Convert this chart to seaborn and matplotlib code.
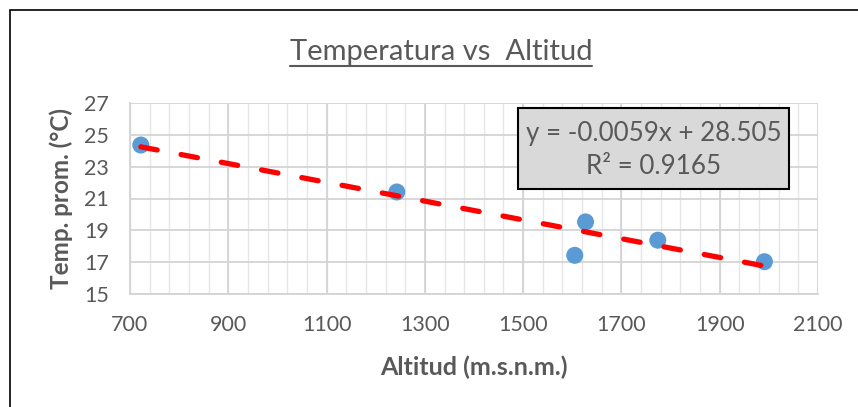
import matplotlib
matplotlib.use("Agg")
import matplotlib.pyplot as plt
import seaborn as sns
import numpy as np
import pandas as pd
from matplotlib.patches import Rectangle
from matplotlib.lines import Line2D

# Station data
altitud = [722, 1243, 1605, 1627, 1774, 1991]
temperatura = [24.36, 21.41, 17.43, 19.53, 18.38, 17.03]

# Linear trendline coefficients
pendiente = -0.0059
intercepto = 28.505
r2 = 0.9165

x_ticks = [700, 900, 1100, 1300, 1500, 1700, 1900, 2100]
y_ticks = [15, 17, 19, 21, 23, 25, 27]

titulo = "Temperatura vs  Altitud"
x_label = "Altitud (m.s.n.m.)"
y_label = "Temp. prom. (°C)"

sns.set_theme(style="white")
plt.rcParams["font.family"] = ["Lato", "DejaVu Sans"]
plt.rcParams["lines.scale_dashes"] = False

gray_text = "#595959"
W, H = 858, 407
fig = plt.figure(figsize=(W / 100, H / 100), dpi=100)
ax = fig.add_axes([130 / W, 1 - 294 / H, (818 - 130) / W, (294 - 103) / H])

df = pd.DataFrame({"altitud": altitud, "temperatura": temperatura})

# Grid: minor vertical lines every 40 m, major every 200 m, horizontal every 2 °C
for xv in np.arange(700, 2100 + 1, 40):
    ax.axvline(xv, color="#e6e6e6", lw=1.0, zorder=0)
for xv in x_ticks:
    ax.axvline(xv, color="#d4d4d4", lw=1.3, zorder=0)
for yv in y_ticks:
    ax.axhline(yv, color="#d4d4d4", lw=1.3, zorder=0)

# Trendline from the fitted equation
x_fit = np.array([min(altitud), max(altitud)])
trend = pd.DataFrame({"x": x_fit, "y": pendiente * x_fit + intercepto})
sns.lineplot(data=trend, x="x", y="y", ax=ax, color="#ff0000", lw=3.8,
             linestyle=(0, (12.0, 17.5)), solid_capstyle="round",
             dash_capstyle="round", zorder=3)

sns.scatterplot(data=df, x="altitud", y="temperatura", ax=ax, s=150,
                color="#5b9bd5", edgecolor="none", zorder=2)

ax.set_xlim(700, 2100)
ax.set_ylim(15, 27)
ax.set_xticks(x_ticks)
ax.set_yticks(y_ticks)
ax.tick_params(axis="both", length=0, labelsize=15.5, labelcolor=gray_text)
ax.tick_params(axis="x", pad=15)
ax.tick_params(axis="y", pad=15)
for s in ["top", "right"]:
    ax.spines[s].set_visible(False)
for s in ["left", "bottom"]:
    ax.spines[s].set_color("#d4d4d4")
    ax.spines[s].set_linewidth(1.3)

ax.set_xlabel(x_label, fontsize=18, fontweight="bold", color=gray_text, labelpad=15)
ax.set_ylabel(y_label, fontsize=17.5, fontweight="bold", color=gray_text, labelpad=8)

# Chart title with underline
t = fig.text(441 / W, 1 - 52 / H, titulo, ha="center", va="center",
             fontsize=21, color=gray_text)
fig.canvas.draw()
bb = t.get_window_extent()
uy = bb.y0 - 1
fig.add_artist(Line2D([bb.x0 / W, bb.x1 / W], [uy / H, uy / H],
                      transform=fig.transFigure, color=gray_text, lw=1.5))

# Equation box
fig.add_artist(Rectangle((518 / W, 1 - 189 / H), (789 - 518) / W, (189 - 108) / H,
                         transform=fig.transFigure, facecolor="#d9d9d9",
                         edgecolor="black", lw=1.5, zorder=5))
fig.text(654 / W, 1 - 133 / H, f"y = {pendiente}x + {intercepto}", ha="center",
         va="center", fontsize=18.7, color=gray_text, zorder=6)
fig.text(654 / W, 1 - 167 / H, f"R² = {r2}", ha="center", va="center",
         fontsize=18.7, color=gray_text, zorder=6)

# Chart area border
fig.add_artist(Rectangle((9.5 / W, -0.1), 1.2, 1.1 - 10.5 / H,
                         transform=fig.transFigure, facecolor="none",
                         edgecolor="black", lw=1.2))

fig.savefig("out.png", dpi=100)
